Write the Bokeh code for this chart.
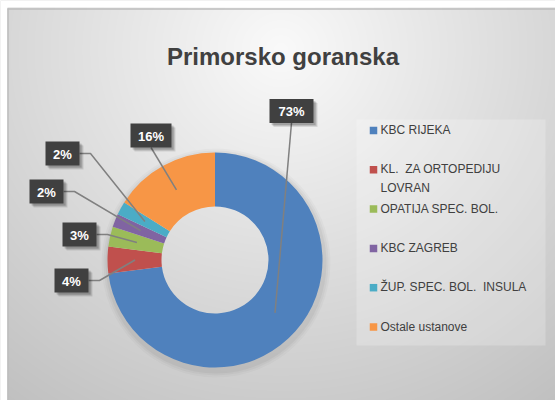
import numpy as np
from bokeh.plotting import figure
from bokeh.core.properties import value
from bokeh.embed import file_html
from bokeh.resources import INLINE

# ---- data ----
title = "Primorsko goranska"
categories = ["KBC RIJEKA", "KL. \u00a0ZA ORTOPEDIJU\nLOVRAN", "OPATIJA SPEC. BOL.",
              "KBC ZAGREB", "ŽUP. SPEC. BOL. \u00a0INSULA", "Ostale ustanove"]
shares = [73, 4, 3, 2, 2, 16]
pct_labels = ["73%", "4%", "3%", "2%", "2%", "16%"]
colors = ["#4F81BD", "#C0504D", "#9BBB59", "#8064A2", "#4BACC6", "#F79646"]

# ---- layout (picture pixel coordinates) ----
W, H = 555, 400
FONT = "Liberation Sans"


def px(x):
    return x


def py(y):
    return H - y


p = figure(width=W, height=H, x_range=(0, W), y_range=(0, H),
           output_backend="svg", toolbar_location=None, min_border=0,
           x_axis_type=None, y_axis_type=None)
p.grid.visible = False
p.outline_line_color = None
p.background_fill_color = "#dddddd"
p.border_fill_color = "#dddddd"

# background radial gradient
yy, xx = np.mgrid[0:H, 0:W]
pgx = xx.astype(float)
pgy = (H - yy).astype(float)
d = np.hypot(pgx - 280.0, (pgy - 50.0) * 1.05)
v = np.clip(250 - 54 * d / 430, 188, 250).astype(np.uint8)
v[pgy < 7.5] = 255
v[pgx < 6.5] = 255
img = np.empty((H, W), dtype=np.uint32)
view = img.view(dtype=np.uint8).reshape((H, W, 4))
view[..., 0] = v
view[..., 1] = v
view[..., 2] = v
view[..., 3] = 255
p.image_rgba(image=[img], x=0, y=0, dw=W, dh=H)

# chart border (top / left)
p.segment(x0=[px(7), px(7.5)], y0=[py(8.5), py(8)], x1=[px(W), px(7.5)],
          y1=[py(8.5), py(H)], line_color="#bdbdbd", line_width=1.5)

# ---- donut ----
frac = np.array(shares, dtype=float) / sum(shares)
cum = np.concatenate([[0.0], np.cumsum(frac)])
start = np.pi / 2 - 2 * np.pi * cum[:-1]
end = np.pi / 2 - 2 * np.pi * cum[1:]
mid = (start + end) / 2
cx, cy = px(214.5), py(259.5)
R, r = 107.5, 53.5

for k, a in [(7, 0.025), (5, 0.03), (3, 0.04)]:
    p.annulus(x=cx + 1, y=cy - 3, inner_radius=R - 6, outer_radius=R + k,
              fill_color="black", fill_alpha=a, line_color=None)

p.annular_wedge(x=cx, y=cy, inner_radius=r, outer_radius=R,
                start_angle=start, end_angle=end, direction="clock",
                fill_color=colors, line_color=None)

# ---- data labels ----
lab_cx = [291, 71, 79, 46, 62, 150.5]
lab_cy = [110.5, 280, 234, 191, 153, 135]
lab_w = [44, 34, 34, 34, 34, 41]
lab_h = 24
lead_r = 80

xs, ys = [], []
for i in range(len(shares)):
    tx = cx + lead_r * np.cos(mid[i])
    ty = cy + lead_r * np.sin(mid[i])
    bx, by = px(lab_cx[i]), py(lab_cy[i])
    if i in (0, 5):
        xs.append([bx, tx])
        ys.append([by - lab_h / 2, ty])
    else:
        rx = bx + lab_w[i] / 2
        xs.append([rx, rx + 11, tx])
        ys.append([by, by, ty])
p.multi_line(xs=xs, ys=ys, line_color="#808080", line_width=1.5)

bxs = [px(x) for x in lab_cx]
bys = [py(y) for y in lab_cy]
for off, a in [(4, 0.10), (3, 0.12), (2, 0.15)]:
    p.rect(x=[b + off for b in bxs], y=[b - off for b in bys], width=lab_w,
           height=lab_h, fill_color="black", fill_alpha=a, line_color=None)
p.rect(x=bxs, y=bys, width=lab_w, height=lab_h, fill_color="#404040",
       line_color=None)
p.text(x=bxs, y=[b - 0.5 for b in bys], text=pct_labels, text_align="center",
       text_baseline="middle", text_color="white", text_font_style="bold",
       text_font_size="13px", text_font=value(FONT))

# ---- title ----
p.text(x=[px(282.5)], y=[py(56)], text=[title], text_align="center",
       text_baseline="alphabetic", text_color="#404040",
       text_font_style="bold", text_font_size="24px", text_font=value(FONT))

# ---- legend ----
p.quad(left=px(356), right=px(545), top=py(119), bottom=py(345),
       fill_color="white", fill_alpha=0.22, line_color=None)
row_y = [130 + 39.3 * i for i in range(len(categories))]
p.rect(x=[px(373)] * len(categories), y=[py(y) for y in row_y], width=7.5,
       height=7.5, fill_color=colors, line_color=None)
p.text(x=[px(380)] * len(categories), y=[py(y - 7.5) for y in row_y],
       text=categories, text_align="left", text_baseline="top",
       text_color="#404040", text_font_size="12px", text_line_height=1.35,
       text_font=value(FONT))

open("out.html", "w").write(file_html(p, INLINE))
